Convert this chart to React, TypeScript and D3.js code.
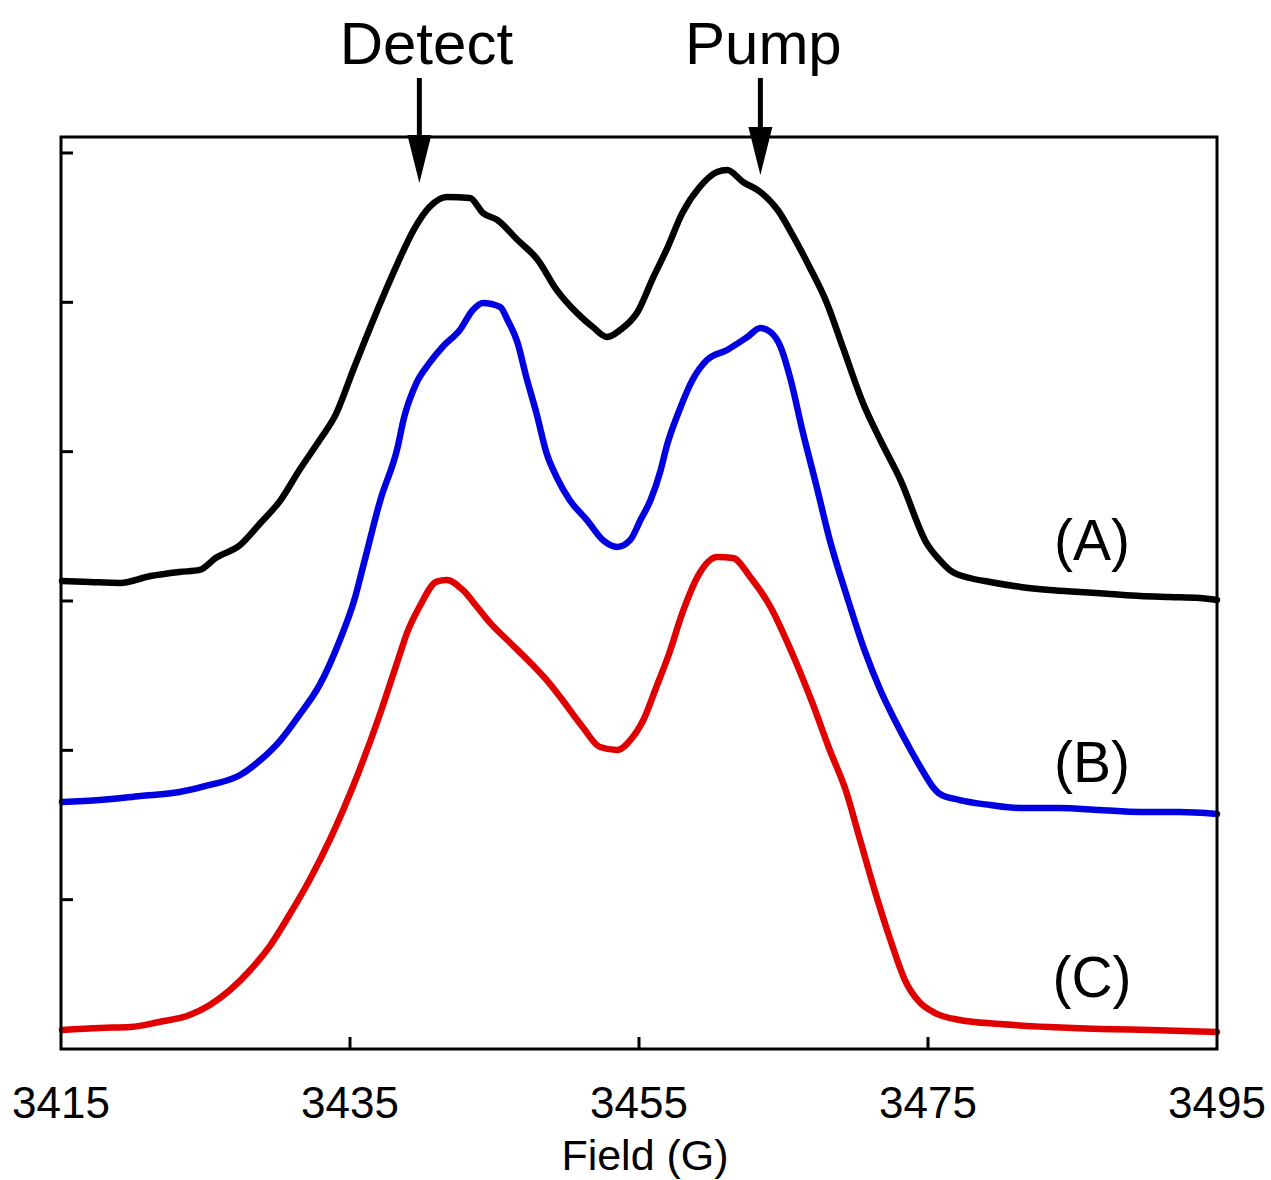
import React from "react";
import * as d3 from "d3";

const fieldA = [3415.07,3417.0,3419.1,3421.2,3423.2,3424.6,3425.7,3427.4,3428.8,3430.2,3431.5,3432.9,3434.0,3435.3,3437.1,3438.3,3439.4,3440.5,3441.7,3443.3,3444.2,3445.2,3446.6,3448.0,3449.3,3450.7,3451.8,3452.8,3453.7,3454.9,3456.0,3456.9,3458.0,3459.2,3460.4,3461.1,3462.2,3463.4,3464.6,3465.7,3466.8,3468.0,3469.1,3470.5,3471.7,3473.1,3474.9,3475.8,3476.5,3477.9,3479.3,3481.4,3483.4,3485.5,3487.6,3489.7,3491.7,3493.8,3495.0];
const intA = [3.134,3.127,3.121,3.167,3.194,3.208,3.288,3.375,3.522,3.676,3.877,4.078,4.246,4.567,4.996,5.263,5.484,5.638,5.705,5.699,5.598,5.551,5.417,5.284,5.083,4.929,4.835,4.768,4.815,4.935,5.170,5.351,5.598,5.772,5.873,5.886,5.806,5.739,5.618,5.438,5.237,4.996,4.701,4.326,4.078,3.810,3.388,3.275,3.208,3.154,3.127,3.094,3.074,3.060,3.047,3.034,3.027,3.020,3.007];

const fieldB = [3415.07,3417.7,3420.5,3423.2,3425.3,3427.4,3428.8,3430.2,3431.5,3432.9,3434.3,3435.3,3435.9,3437.1,3438.3,3438.7,3439.6,3440.5,3441.4,3442.6,3443.5,3444.2,3445.4,3445.9,3446.6,3447.2,3447.9,3448.6,3449.3,3450.2,3451.4,3452.5,3453.5,3454.4,3455.1,3455.8,3456.5,3456.9,3457.8,3458.7,3459.7,3461.1,3462.5,3463.4,3464.1,3464.8,3465.5,3466.3,3467.3,3468.2,3469.4,3470.6,3471.7,3472.7,3473.8,3474.8,3475.3,3475.8,3477.2,3479.3,3481.4,3484.1,3486.9,3489.7,3492.4,3495.0];
const intB = [1.654,1.667,1.694,1.721,1.768,1.835,1.935,2.069,2.237,2.438,2.739,3.007,3.228,3.676,4.031,4.212,4.460,4.594,4.701,4.815,4.949,4.996,4.969,4.882,4.728,4.500,4.259,3.991,3.830,3.676,3.542,3.409,3.362,3.409,3.542,3.676,3.877,4.031,4.279,4.480,4.614,4.681,4.768,4.828,4.801,4.701,4.480,4.145,3.763,3.409,3.027,2.672,2.404,2.203,2.002,1.835,1.760,1.710,1.667,1.634,1.614,1.614,1.600,1.587,1.587,1.574];

const fieldC = [3415.07,3417.7,3419.8,3421.8,3423.9,3425.3,3426.7,3428.1,3429.5,3430.8,3432.2,3433.6,3435.5,3437.1,3438.3,3439.0,3439.8,3441.0,3441.7,3442.8,3443.8,3444.7,3446.1,3447.5,3448.6,3449.7,3451.1,3452.3,3453.5,3454.4,3455.3,3456.2,3457.1,3458.0,3459.2,3460.4,3461.5,3462.7,3464.1,3465.5,3467.0,3468.2,3469.3,3470.3,3471.3,3472.4,3473.4,3474.4,3475.5,3477.2,3480.0,3483.4,3486.9,3490.4,3495.0];
const intC = [0.127,0.141,0.147,0.181,0.228,0.295,0.395,0.529,0.696,0.897,1.132,1.400,1.830,2.250,2.600,2.800,2.960,3.130,3.141,3.074,2.960,2.853,2.719,2.585,2.471,2.337,2.156,2.022,2.002,2.069,2.203,2.424,2.652,2.920,3.188,3.295,3.288,3.161,2.960,2.672,2.317,2.002,1.734,1.400,1.065,0.730,0.462,0.315,0.241,0.194,0.167,0.147,0.134,0.127,0.114];

const seriesNames = ["(A)", "(B)", "(C)"];
const seriesColors = ["#000000", "#0000e0", "#e00000"];
const labelField = [3486.35, 3486.35, 3486.35];
const labelInt = [3.275, 1.788, 0.348];

const xTicks = [3415, 3435, 3455, 3475, 3495];
const yTicks = [1, 2, 3, 4, 5, 6];

const arrowNames = ["Detect", "Pump"];
const arrowField = [3439.8, 3463.4];
const arrowTipInt = [5.799, 5.853];

const W = 1271, H = 1180;
const M = { left: 61, right: 1217, top: 137, bottom: 1049 };
const FONT = "'Liberation Sans', Arial, Helvetica, sans-serif";

export default function App() {
  const x = d3.scaleLinear().domain([3415, 3495]).range([M.left, M.right]);
  const y = d3.scaleLinear().domain([0, 6.107]).range([M.bottom, M.top]);
  const line = d3.line<[number, number]>().x(d => x(d[0])).y(d => y(d[1])).curve(d3.curveMonotoneX);
  const series = [
    { f: fieldA, v: intA },
    { f: fieldB, v: intB },
    { f: fieldC, v: intC },
  ];
  return (
    <svg width={W} height={H} style={{ position: "absolute", left: 0, top: 0, background: "#fff" }} fontFamily={FONT}>
      <rect width={W} height={H} fill="#fff" />
      {series.map((s, i) => (
        <path key={i} d={line(s.f.map((f, j) => [f, s.v[j]] as [number, number])) || ""}
          fill="none" stroke={seriesColors[i]} strokeWidth={6.5} strokeLinejoin="round" strokeLinecap="round" />
      ))}
      <rect x={M.left} y={M.top} width={M.right - M.left} height={M.bottom - M.top} fill="none" stroke="#000" strokeWidth={3} />
      {yTicks.map(t => (
        <line key={t} x1={M.left} x2={M.left + 12} y1={y(t)} y2={y(t)} stroke="#000" strokeWidth={3} />
      ))}
      {xTicks.slice(1, -1).map(t => (
        <line key={t} x1={x(t)} x2={x(t)} y1={M.bottom} y2={M.bottom - 12} stroke="#000" strokeWidth={3} />
      ))}
      {xTicks.map(t => (
        <text key={t} x={x(t)} y={1118} textAnchor="middle" fontSize={44} fill="#000">{t}</text>
      ))}
      <text x={645} y={1170} textAnchor="middle" fontSize={43} fill="#000">Field (G)</text>
      {seriesNames.map((n, i) => (
        <text key={n} x={x(labelField[i])} y={y(labelInt[i])} textAnchor="middle" fontSize={57} fill="#000">{n}</text>
      ))}
      {arrowNames.map((n, i) => {
        const ax = x(arrowField[i]);
        const tip = y(arrowTipInt[i]);
        return (
          <g key={n}>
            <text x={ax + (i === 0 ? 7 : 3)} y={64} textAnchor="middle" fontSize={60} fill="#000">{n}</text>
            <line x1={ax} x2={ax} y1={78} y2={tip - 40} stroke="#000" strokeWidth={5} />
            <path d={`M${ax - 12},${tip - 48} L${ax + 12},${tip - 48} L${ax},${tip} Z`} fill="#000" />
          </g>
        );
      })}
    </svg>
  );
}
